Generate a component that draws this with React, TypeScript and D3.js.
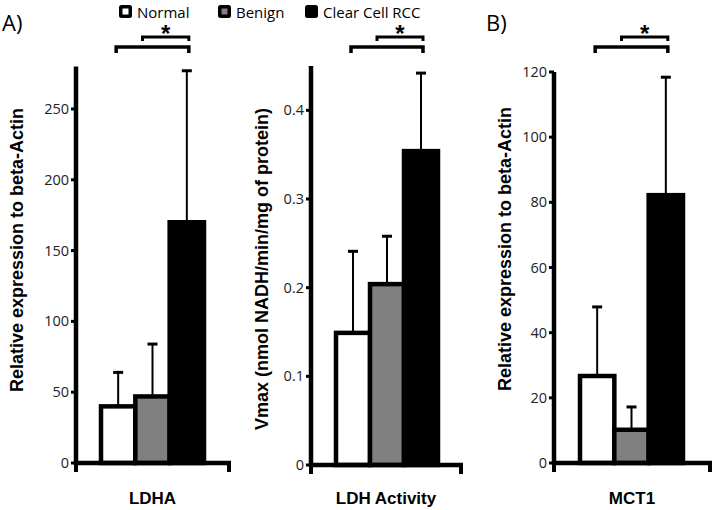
import React from "react";
import * as d3 from "d3";

const groups = ["Normal", "Benign", "Clear Cell RCC"];
const groupFill = ["#ffffff", "#808080", "#000000"];

const ldhaMean = [40, 47, 170];
const ldhaErr = [64, 84, 277];
const ldhaTicks = [0, 50, 100, 150, 200, 250];

const actMean = [0.149, 0.204, 0.354];
const actErr = [0.241, 0.258, 0.442];
const actTicks = [0, 0.1, 0.2, 0.3, 0.4];

const mctMean = [26.7, 10.2, 82.2];
const mctErr = [47.9, 17.2, 118.4];
const mctTicks = [0, 20, 40, 60, 80, 100, 120];

const panels = [
  { name: "LDHA", ylabel: "Relative expression to beta-Actin", mean: ldhaMean, err: ldhaErr, ticks: ldhaTicks, max: 280, axisX: 76, bars: [101, 204], base: 463, top: 66.5, xEnd: 229, labelX: 17, labelY: 250, fmt: (v: number) => String(v) },
  { name: "LDH Activity", ylabel: "Vmax (nmol NADH/min/mg of protein)", mean: actMean, err: actErr, ticks: actTicks, max: 0.45, axisX: 311, bars: [336, 438], base: 465, top: 66, xEnd: 461, labelX: 262, labelY: 269, fmt: (v: number) => (v === 0 ? "0" : String(v)) },
  { name: "MCT1", ylabel: "Relative expression to beta-Actin", mean: mctMean, err: mctErr, ticks: mctTicks, max: 120, axisX: 554, bars: [580, 683], base: 463, top: 72, xEnd: 710, labelX: 505, labelY: 249, fmt: (v: number) => String(v) },
];

const tickFont = "'Open Sans', 'DejaVu Sans', sans-serif";
const boldFont = "'Liberation Sans', Arial, sans-serif";

function Panel({ p }: { p: typeof panels[number] }) {
  const y = d3.scaleLinear().domain([0, p.max]).range([p.base, p.top]);
  const x = d3.scaleBand<string>().domain(groups).range(p.bars as [number, number]).padding(0);
  const bw = x.bandwidth();
  const cx = (g: string) => (x(g) as number) + bw / 2;
  const axisTop = y(p.max);
  const bY1 = 37, bY2 = 47;
  const u0 = cx(groups[1]) - 10, u1 = cx(groups[2]) + 2;
  const l0 = cx(groups[0]) - 2, l1 = u1;
  return (
    <g>
      {groups.map((g, i) => (
        <g key={g}>
          <line x1={cx(g)} x2={cx(g)} y1={y(p.mean[i])} y2={y(p.err[i])} stroke="#000" strokeWidth={2} />
          <line x1={cx(g) - 5} x2={cx(g) + 5} y1={y(p.err[i])} y2={y(p.err[i])} stroke="#000" strokeWidth={3} />
        </g>
      ))}
      {groups.map((g, i) => (
        <rect key={g} x={x(g)} y={y(p.mean[i])} width={bw} height={p.base - y(p.mean[i])} fill={groupFill[i]} stroke="#000" strokeWidth={4.5} />
      ))}
      <line x1={p.axisX} x2={p.axisX} y1={axisTop} y2={p.base + 2} stroke="#000" strokeWidth={4.5} />
      <line x1={p.axisX - 2} x2={p.xEnd + 2} y1={p.base} y2={p.base} stroke="#000" strokeWidth={4.5} />
      <line x1={p.axisX} x2={p.axisX} y1={p.base} y2={p.base + 9} stroke="#000" strokeWidth={4} />
      <line x1={p.xEnd} x2={p.xEnd} y1={p.base} y2={p.base + 9} stroke="#000" strokeWidth={4} />
      {p.ticks.map((t) => (
        <g key={t}>
          <line x1={p.axisX - 5} x2={p.axisX} y1={y(t)} y2={y(t)} stroke="#000" strokeWidth={3} />
          <text x={p.axisX - 7} y={y(t)} dy="0.35em" textAnchor="end" fontFamily={tickFont} fontSize={14.5} fill="#222">{p.fmt(t)}</text>
        </g>
      ))}
      <text transform={`translate(${p.labelX},${p.labelY}) rotate(-90)`} textAnchor="middle" dy="0.35em" fontFamily={boldFont} fontWeight="bold" fontSize={18} fill="#000">{p.ylabel}</text>
      <text x={(p.axisX + p.xEnd) / 2} y={504} textAnchor="middle" fontFamily={boldFont} fontWeight="bold" fontSize={17} fill="#000">{p.name}</text>
      <path d={`M${u0},${bY1 + 4}V${bY1}H${u1}V${bY1 + 4}`} fill="none" stroke="#000" strokeWidth={3} />
      <path d={`M${l0},${bY2 + 6}V${bY2}H${l1}V${bY2 + 6}`} fill="none" stroke="#000" strokeWidth={3.5} />
      <text x={(u0 + u1) / 2} y={42} textAnchor="middle" fontFamily={boldFont} fontWeight="bold" fontSize={24} fill="#000">*</text>
    </g>
  );
}

const legendX = [119, 218, 305];

export default function App() {
  return (
    <svg width={714} height={510} style={{ position: "absolute", left: 0, top: 0, background: "#fff" }}>
      <rect width={714} height={510} fill="#fff" />
      {panels.map((p) => <Panel key={p.name} p={p} />)}
      {groups.map((g, i) => (
        <g key={g}>
          <rect x={legendX[i]} y={5} width={13} height={13} rx={2.5} fill="#000" />
          <rect x={legendX[i] + 3.5} y={8.5} width={6} height={6} fill={i === 2 ? "#000" : groupFill[i]} />
          <text x={legendX[i] + 18} y={18} fontFamily={tickFont} fontSize={15} fill="#000">{g}</text>
        </g>
      ))}
      <text x={2} y={31} fontFamily={tickFont} fontSize={22} fill="#000">A)</text>
      <text x={486} y={31} fontFamily={tickFont} fontSize={22} fill="#000">B)</text>
    </svg>
  );
}
